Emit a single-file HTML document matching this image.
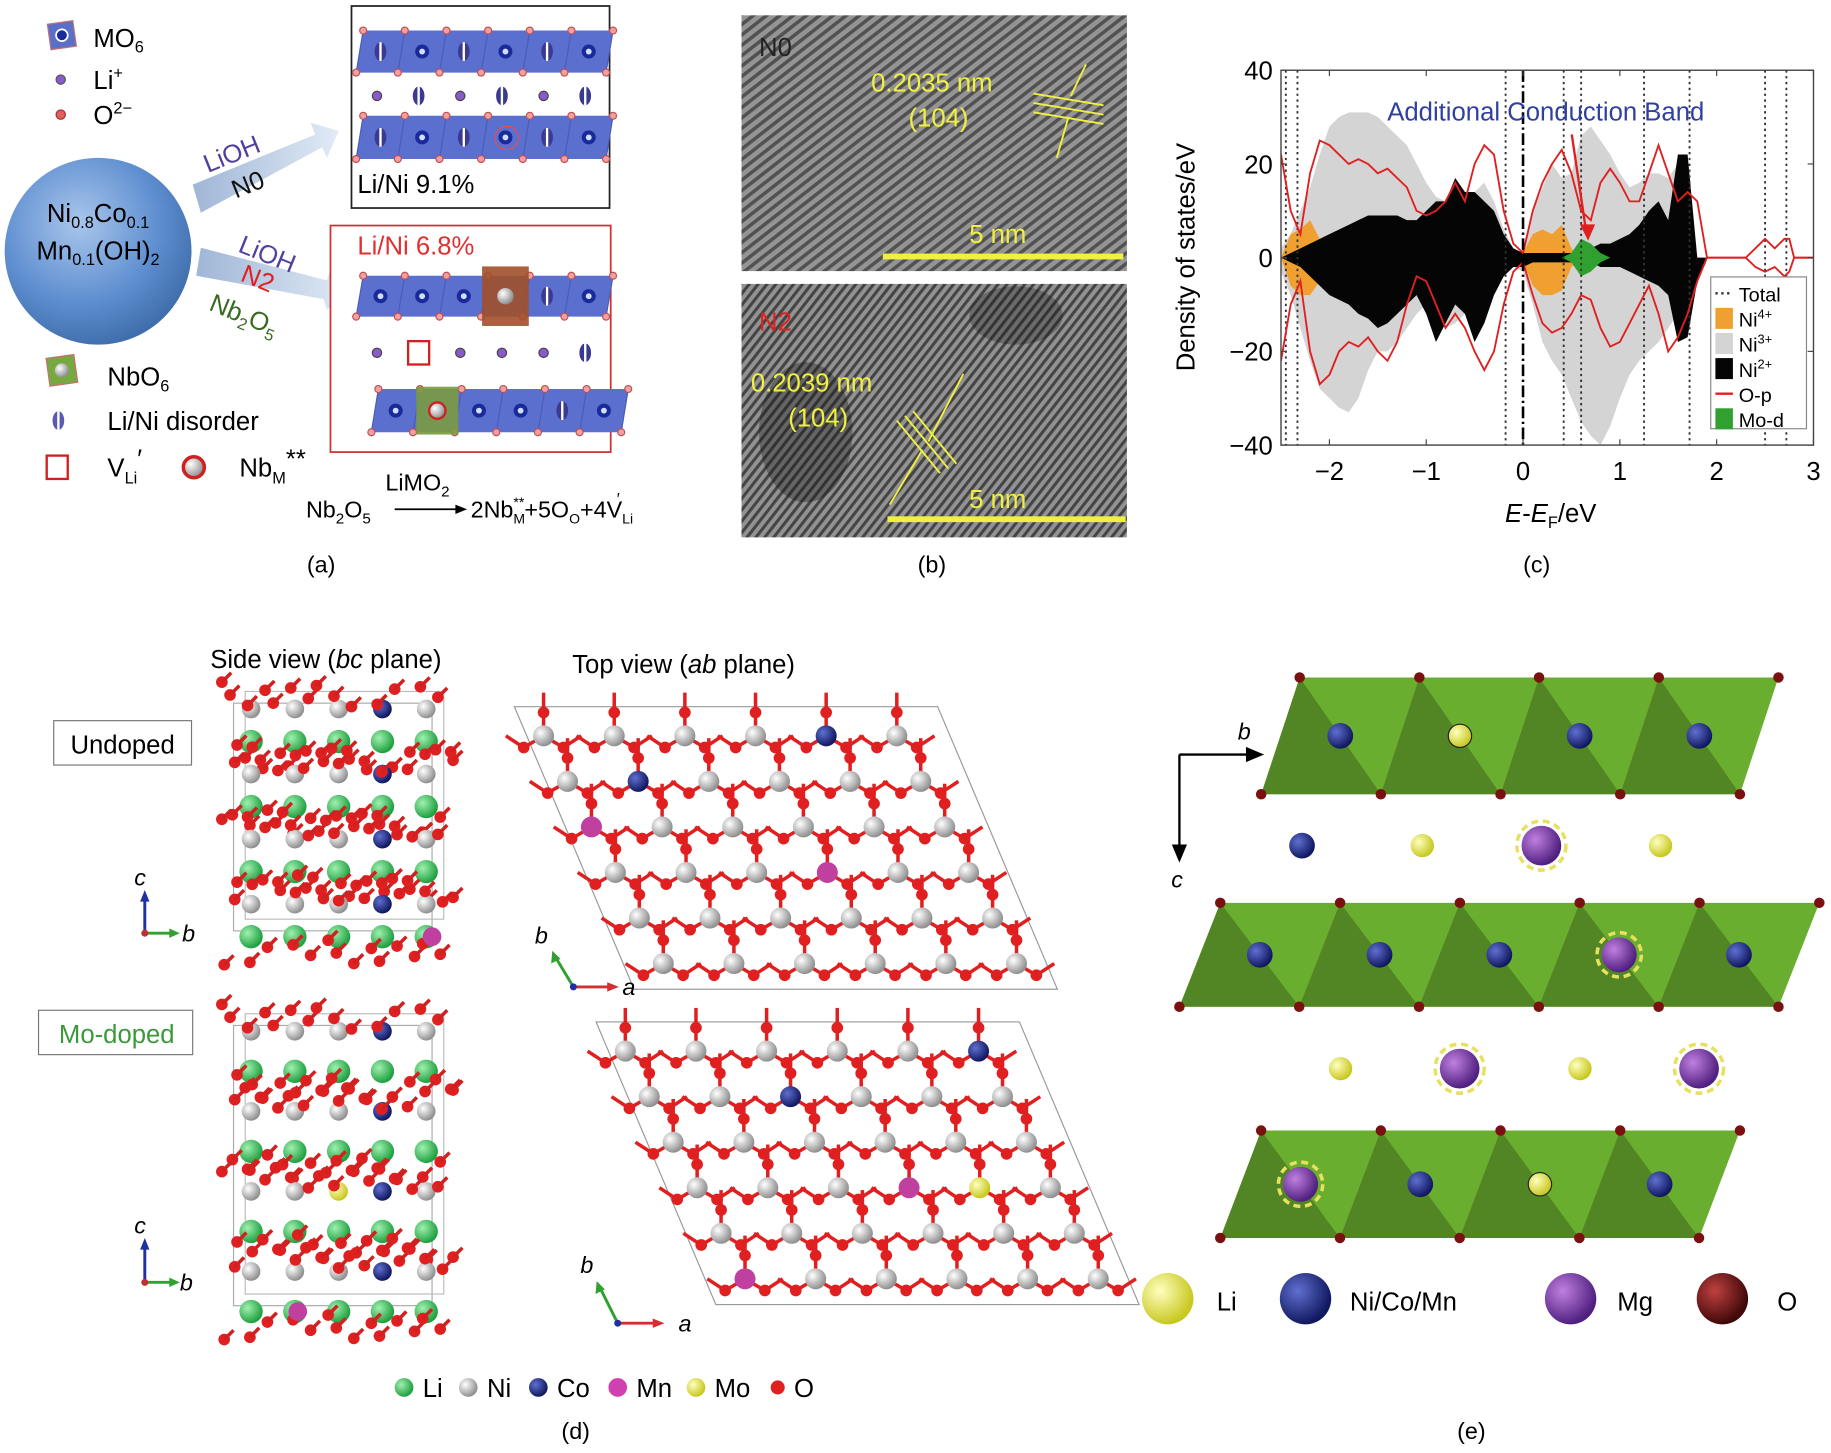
<!DOCTYPE html>
<html><head><meta charset="utf-8">
<style>
html,body{margin:0;padding:0;background:#fff;}
svg{display:block;font-family:"Liberation Sans",sans-serif;}
</style></head>
<body>
<svg id="fig" width="1831" height="1453" viewBox="0 0 1568 1244" xmlns="http://www.w3.org/2000/svg">
<defs>
  <radialGradient id="sphereBlue" cx="40%" cy="35%" r="70%"><stop offset="0" stop-color="#a9c6ec"/><stop offset="0.6" stop-color="#5f8fd0"/><stop offset="1" stop-color="#3c6aa8"/></radialGradient>
  <radialGradient id="ballYellow" cx="35%" cy="35%" r="65%"><stop offset="0" stop-color="#ffffc0"/><stop offset="1" stop-color="#c8c820"/></radialGradient>
  <radialGradient id="ballNavy" cx="35%" cy="35%" r="65%"><stop offset="0" stop-color="#6070d0"/><stop offset="1" stop-color="#101860"/></radialGradient>
  <radialGradient id="ballPurple" cx="35%" cy="35%" r="65%"><stop offset="0" stop-color="#c080e0"/><stop offset="1" stop-color="#502080"/></radialGradient>
  <radialGradient id="ballRed" cx="35%" cy="35%" r="65%"><stop offset="0" stop-color="#c04040"/><stop offset="1" stop-color="#400808"/></radialGradient>
  <radialGradient id="ballGray" cx="35%" cy="35%" r="65%"><stop offset="0" stop-color="#ffffff"/><stop offset="1" stop-color="#909090"/></radialGradient>
  <radialGradient id="ballGreen" cx="35%" cy="35%" r="65%"><stop offset="0" stop-color="#a0f0b0"/><stop offset="1" stop-color="#20a040"/></radialGradient>
  <linearGradient id="arrowG" x1="0" x2="1"><stop offset="0" stop-color="#9fb6d6"/><stop offset="1" stop-color="#e2ebf6"/></linearGradient>
  <pattern id="stripes" width="7" height="7" patternUnits="userSpaceOnUse" patternTransform="rotate(-38)">
    <rect width="7" height="7" fill="#9a9a9a"/><rect width="7" height="3" fill="#3a3a3a"/>
  </pattern>
  <pattern id="stripes2" width="6" height="6" patternUnits="userSpaceOnUse" patternTransform="rotate(-52)">
    <rect width="6" height="6" fill="#a0a0a0"/><rect width="6" height="2.6" fill="#383838"/>
  </pattern>
</defs>

<!-- ===== Panel (a) ===== -->
<g>
  <g>
    <rect x="42" y="19" width="22" height="22" fill="#5a6fc8" stroke="#c87070" transform="rotate(-8 53 30)"/>
    <circle cx="53" cy="30" r="5" fill="#1a2a9a" stroke="#fff" stroke-width="1.5"/>
    <text x="80" y="40" font-size="22">MO<tspan font-size="14" dy="5">6</tspan></text>
  </g>
  <g>
    <circle cx="52" cy="68" r="4" fill="#8a5ac8" stroke="#555"/>
    <text x="80" y="76" font-size="22">Li<tspan font-size="14" dy="-9">+</tspan></text>
  </g>
  <g>
    <circle cx="52" cy="98" r="4" fill="#e06060" stroke="#a03030"/>
    <text x="80" y="106" font-size="22">O<tspan font-size="14" dy="-9">2−</tspan></text>
  </g>
  <circle cx="84" cy="215" r="80" fill="url(#sphereBlue)"/>
  <text x="84" y="190" font-size="22" text-anchor="middle">Ni<tspan font-size="14" dy="5">0.8</tspan><tspan dy="-5">Co</tspan><tspan font-size="14" dy="5">0.1</tspan></text>
  <text x="84" y="222" font-size="22" text-anchor="middle">Mn<tspan font-size="14" dy="5">0.1</tspan><tspan dy="-5">(OH)</tspan><tspan font-size="14" dy="5">2</tspan></text>
  <polygon points="165,158 270,115 266,105 290,112 280,135 276,126 172,182" fill="url(#arrowG)"/>
  <text x="0" y="0" font-size="22" fill="#5040a0" transform="translate(178,148) rotate(-22)">LiOH</text>
  <text x="0" y="0" font-size="22" fill="#111" transform="translate(202,170) rotate(-22)">N0</text>
  <polygon points="172,212 280,240 283,230 300,250 280,265 277,256 168,236" fill="url(#arrowG)"/>
  <text x="0" y="0" font-size="22" fill="#5040a0" transform="translate(203,215) rotate(22)">LiOH</text>
  <text x="0" y="0" font-size="22" fill="#e02020" transform="translate(205,240) rotate(22)">N2</text>
  <text x="0" y="0" font-size="22" fill="#3a6a20" transform="translate(178,265) rotate(22)">Nb<tspan font-size="14" dy="5">2</tspan><tspan dy="-5">O</tspan><tspan font-size="14" dy="5">5</tspan></text>

  <rect x="301" y="5" width="221" height="173" fill="#fff" stroke="#222" stroke-width="1.5"/>
  <g id="boxN0"></g>
  <text x="306" y="165" font-size="22">Li/Ni 9.1%</text>

  <rect x="283" y="193" width="240" height="194" fill="#fff" stroke="#d03030" stroke-width="1.5"/>
  <g id="boxN2"></g>
  <text x="306" y="218" font-size="22" fill="#e03030">Li/Ni 6.8%</text>

  <g>
    <rect x="41" y="305" width="24" height="24" fill="#78a840" stroke="#c87070" transform="rotate(-8 53 317)"/>
    <circle cx="53" cy="317" r="6" fill="url(#ballGray)"/>
    <text x="92" y="330" font-size="22">NbO<tspan font-size="14" dy="5">6</tspan></text>
  </g>
  <g>
    <ellipse cx="50" cy="360" rx="5" ry="8" fill="#5a5ab0"/><rect x="49" y="352" width="2" height="16" fill="#fff"/>
    <text x="92" y="368" font-size="22">Li/Ni disorder</text>
  </g>
  <g>
    <rect x="40" y="390" width="18" height="20" fill="none" stroke="#d02020" stroke-width="2"/>
    <text x="92" y="408" font-size="22">V<tspan font-size="14" dy="6">Li</tspan><tspan dy="-14">′</tspan></text>
  </g>
  <g>
    <circle cx="166" cy="400" r="9" fill="url(#ballGray)" stroke="#d02020" stroke-width="3"/>
    <text x="205" y="408" font-size="22">Nb<tspan font-size="14" dy="6">M</tspan><tspan dy="-14">**</tspan></text>
  </g>
  <g>
    <text x="330" y="420" font-size="20">LiMO<tspan font-size="13" dy="5">2</tspan></text>
    <text x="262" y="443" font-size="20">Nb<tspan font-size="13" dy="5">2</tspan><tspan dy="-5">O</tspan><tspan font-size="13" dy="5">5</tspan></text>
    <line x1="338" y1="436" x2="395" y2="436" stroke="#000" stroke-width="1.5"/><polygon points="400,436 390,432 390,440" fill="#000"/>
    <text x="403" y="443" font-size="20">2Nb<tspan font-size="12" dy="5">M</tspan><tspan font-size="12" dx="-10" dy="-14">**</tspan><tspan dy="9">+5O</tspan><tspan font-size="12" dy="5">O</tspan><tspan dy="-5">+4V</tspan><tspan font-size="12" dy="5">Li</tspan><tspan font-size="14" dx="-14" dy="-16">′</tspan></text>
  </g>
  <text x="275" y="490" font-size="20" text-anchor="middle">(a)</text>
</g>

<!-- ===== Panel (b) ===== -->
<g>
  <rect x="635" y="13" width="330" height="219" fill="url(#stripes)"/>
  <rect x="635" y="13" width="330" height="219" fill="#888" opacity="0.3"/>
  <text x="650" y="48" font-size="22" fill="#222">N0</text>
  <text x="746" y="78" font-size="22" fill="#f0f040">0.2035 nm</text>
  <text x="778" y="108" font-size="22" fill="#f0f040">(104)</text>
  <g stroke="#f0f040" stroke-width="1.6">
    <line x1="885" y1="80" x2="945" y2="90"/><line x1="885" y1="88" x2="945" y2="98"/><line x1="885" y1="96" x2="945" y2="106"/>
    <line x1="930" y1="55" x2="917" y2="82"/><line x1="905" y1="135" x2="915" y2="100"/>
  </g>
  <text x="830" y="208" font-size="22" fill="#f0f040">5 nm</text>
  <rect x="756" y="217" width="206" height="5" fill="#f0f040"/>

  <rect x="635" y="243" width="330" height="217" fill="url(#stripes2)"/>
  <rect x="635" y="243" width="330" height="217" fill="#666" opacity="0.25"/>
  <ellipse cx="690" cy="370" rx="40" ry="60" fill="#111" opacity="0.35"/>
  <ellipse cx="870" cy="270" rx="40" ry="25" fill="#111" opacity="0.3"/>
  <text x="650" y="283" font-size="22" fill="#e02020">N2</text>
  <text x="643" y="335" font-size="22" fill="#f0f040">0.2039 nm</text>
  <text x="675" y="365" font-size="22" fill="#f0f040">(104)</text>
  <g stroke="#f0f040" stroke-width="1.6">
    <line x1="768" y1="360" x2="805" y2="405"/><line x1="775" y1="356" x2="812" y2="401"/><line x1="782" y1="352" x2="819" y2="397"/>
    <line x1="825" y1="320" x2="795" y2="378"/><line x1="762" y1="432" x2="790" y2="385"/>
  </g>
  <text x="830" y="435" font-size="22" fill="#f0f040">5 nm</text>
  <rect x="760" y="442" width="204" height="5" fill="#f0f040"/>
  <text x="798" y="490" font-size="20" text-anchor="middle">(b)</text>
</g>

<!-- ===== Panel (c) chart ===== -->
<g id="chart"></g>

<!-- ===== Panel (d) ===== -->
<g id="panelD">
  <text x="180" y="572" font-size="22">Side view (<tspan font-style="italic">bc</tspan> plane)</text>
  <text x="490" y="576" font-size="22">Top view (<tspan font-style="italic">ab</tspan> plane)</text>
  <rect x="46" y="617" width="118" height="38" fill="#fff" stroke="#777"/>
  <text x="105" y="645" font-size="22" text-anchor="middle">Undoped</text>
  <rect x="33" y="865" width="132" height="38" fill="#fff" stroke="#777"/>
  <text x="100" y="893" font-size="22" text-anchor="middle" fill="#3a9a3a">Mo-doped</text>
  <g id="sideU"></g>
  <g id="sideM"></g>
  <g id="topU"></g>
  <g id="topM"></g>
  <g stroke-width="2.5">
    <line x1="124" y1="799" x2="124" y2="768" stroke="#2030a0"/><polygon points="124,762 120,772 128,772" fill="#2030a0"/>
    <line x1="124" y1="799" x2="148" y2="799" stroke="#30a030"/><polygon points="154,799 145,795 145,803" fill="#30a030"/>
    <circle cx="124" cy="799" r="3" fill="#c03030"/>
    <text x="115" y="758" font-size="20" font-style="italic" stroke="none">c</text>
    <text x="156" y="806" font-size="20" font-style="italic" stroke="none">b</text>
  </g>
  <g stroke-width="2.5">
    <line x1="124" y1="1098" x2="124" y2="1066" stroke="#2030a0"/><polygon points="124,1060 120,1070 128,1070" fill="#2030a0"/>
    <line x1="124" y1="1098" x2="148" y2="1098" stroke="#30a030"/><polygon points="154,1098 145,1094 145,1102" fill="#30a030"/>
    <circle cx="124" cy="1098" r="3" fill="#c03030"/>
    <text x="115" y="1056" font-size="20" font-style="italic" stroke="none">c</text>
    <text x="154" y="1105" font-size="20" font-style="italic" stroke="none">b</text>
  </g>
  <g stroke-width="2.5">
    <line x1="491" y1="845" x2="476" y2="820" stroke="#30a030"/><polygon points="473,814 472,825 480,821" fill="#30a030"/>
    <line x1="491" y1="845" x2="523" y2="845" stroke="#d03030"/><polygon points="530,845 520,841 520,849" fill="#d03030"/>
    <circle cx="491" cy="845" r="3" fill="#2030a0"/>
    <text x="458" y="808" font-size="20" font-style="italic" stroke="none">b</text>
    <text x="533" y="852" font-size="20" font-style="italic" stroke="none">a</text>
  </g>
  <g stroke-width="2.5">
    <line x1="529" y1="1133" x2="514" y2="1103" stroke="#30a030"/><polygon points="511,1097 510,1108 518,1104" fill="#30a030"/>
    <line x1="529" y1="1133" x2="562" y2="1133" stroke="#d03030"/><polygon points="569,1133 559,1129 559,1137" fill="#d03030"/>
    <circle cx="529" cy="1133" r="3" fill="#2030a0"/>
    <text x="497" y="1090" font-size="20" font-style="italic" stroke="none">b</text>
    <text x="581" y="1140" font-size="20" font-style="italic" stroke="none">a</text>
  </g>
  <g font-size="22">
    <circle cx="346" cy="1188" r="8" fill="url(#ballGreen)"/><text x="362" y="1196">Li</text>
    <circle cx="401" cy="1188" r="8" fill="url(#ballGray)"/><text x="417" y="1196">Ni</text>
    <circle cx="461" cy="1188" r="8" fill="url(#ballNavy)"/><text x="477" y="1196">Co</text>
    <circle cx="529" cy="1188" r="8" fill="#d040b0"/><text x="545" y="1196">Mn</text>
    <circle cx="596" cy="1188" r="8" fill="url(#ballYellow)"/><text x="612" y="1196">Mo</text>
    <circle cx="666" cy="1188" r="6" fill="#e02020"/><text x="680" y="1196">O</text>
  </g>
  <text x="493" y="1232" font-size="20" text-anchor="middle">(d)</text>
</g>

<!-- ===== Panel (e) ===== -->
<g id="panelE">
  <g stroke="#000" stroke-width="2">
    <line x1="1010" y1="646" x2="1072" y2="646"/><polygon points="1080,646 1068,641 1068,651" fill="#000"/>
    <line x1="1010" y1="646" x2="1010" y2="728"/><polygon points="1010,736 1005,724 1015,724" fill="#000"/>
    <text x="1060" y="633" font-size="20" font-style="italic" stroke="none">b</text>
    <text x="1003" y="760" font-size="20" font-style="italic" stroke="none">c</text>
  </g>
  <g font-size="22">
    <circle cx="1000" cy="1112" r="22" fill="url(#ballYellow)"/><text x="1042" y="1122">Li</text>
    <circle cx="1118" cy="1112" r="22" fill="url(#ballNavy)"/><text x="1156" y="1122">Ni/Co/Mn</text>
    <circle cx="1345" cy="1112" r="22" fill="url(#ballPurple)"/><text x="1385" y="1122">Mg</text>
    <circle cx="1475" cy="1112" r="22" fill="url(#ballRed)"/><text x="1522" y="1122">O</text>
  </g>
  <text x="1260" y="1232" font-size="20" text-anchor="middle">(e)</text>
</g>
</svg>

<script>
const NS = "http://www.w3.org/2000/svg";
function mk(parent, tag, attrs, text) {
  const e = document.createElementNS(NS, tag);
  for (const k in attrs) e.setAttribute(k, attrs[k]);
  if (text !== undefined) e.textContent = text;
  parent.appendChild(e);
  return e;
}

/* ---------- DOS chart data (panel c) ---------- */
const energyGrid = [-2.5,-2.4,-2.3,-2.2,-2.1,-2.0,-1.9,-1.8,-1.7,-1.6,-1.5,-1.4,-1.3,-1.2,-1.1,-1.0,-0.9,-0.8,-0.7,-0.6,-0.5,-0.4,-0.3,-0.2,-0.1,0.0,0.1,0.2,0.3,0.4,0.5,0.6,0.7,0.8,0.9,1.0,1.1,1.2,1.3,1.4,1.5,1.6,1.7,1.8,1.9];
const ni3Up   = [2,5,10,15,22,28,30,31,31,31,30,28,26,24,20,16,13,12,10,10,14,16,12,6,2,1,10,15,20,17,18,26,28,25,22,18,15,16,18,18,17,20,2,0,0];
const ni3Down = [-3,-8,-15,-22,-28,-30,-32,-33,-30,-24,-20,-20,-18,-15,-12,-10,-12,-15,-14,-12,-12,-10,-6,-3,-2,-3,-10,-18,-22,-25,-30,-35,-38,-40,-36,-30,-25,-22,-20,-18,-15,-12,-2,0,0];
const ni2Up   = [0,1,2,3,4,5,6,7,8,9,9,9,9,8,8,10,12,12,17,14,14,12,10,5,2,1,1,1,1,1,1,2,2,3,3,4,5,7,10,12,8,22,22,0,0];
const ni2Down = [0,-1,-2,-4,-6,-8,-9,-10,-12,-13,-15,-14,-12,-10,-8,-12,-18,-14,-10,-12,-18,-14,-8,-4,-2,-2,-1,-1,-1,-1,-1,-1,-1,-2,-2,-2,-3,-4,-5,-6,-8,-18,-17,-5,0];
const ni4Up   = [0,5,6,8,4,0,0,0,0,0,0,0,0,0,0,0,0,0,0,0,0,0,0,0,0,1,5,6,5,7,2,0,0,0,0,0,0,0,0,0,0,0,0,0,0];
const ni4Down = [0,-6,-8,-8,-5,0,0,0,0,0,0,0,0,0,0,0,0,0,0,0,0,0,0,0,0,-1,-6,-8,-8,-7,-2,0,0,0,0,0,0,0,0,0,0,0,0,0,0];
const moUp    = [0,0,0,0,0,0,0,0,0,0,0,0,0,0,0,0,0,0,0,0,0,0,0,0,0,0,0,0,0,0,1,4,3,1,0,0,0,0,0,0,0,0,0,0,0];
const moDown  = [0,0,0,0,0,0,0,0,0,0,0,0,0,0,0,0,0,0,0,0,0,0,0,0,0,0,0,0,0,0,-1,-4,-3,-1,0,0,0,0,0,0,0,0,0,0,0];
const opUp    = [22,10,5,18,25,24,22,20,21,20,18,19,17,15,10,9,10,12,16,12,20,24,22,10,3,1,10,16,20,23,18,10,8,16,19,16,12,12,18,24,18,12,14,12,0];
const opDown  = [-22,-10,-5,-20,-27,-25,-20,-18,-19,-17,-20,-22,-18,-10,-4,-5,-10,-15,-12,-15,-20,-24,-20,-10,-3,-1,-8,-14,-16,-15,-12,-8,-9,-15,-19,-18,-14,-10,-6,-12,-20,-17,-12,-5,0];
const tailEnergy = [1.9,2.3,2.4,2.5,2.6,2.7,2.75,2.8,2.9,3.0];
const opTailUp   = [0,0,2,4,2,4,4,0,0,0];
const opTailDown = [0,0,-2,-3,-2,-4,-3,0,0,0];
const totalSpikeEnergy = [-2.45,-2.33,-0.18,0.42,0.6,1.25,1.72,2.5,2.72];
const xTicks = [-2,-1,0,1,2,3];
const yTicks = [40,20,0,-20,-40];
const legendLabels = ["Total","Ni4+","Ni3+","Ni2+","O-p","Mo-d"];

const PL = 1097, PR = 1553, PT = 60, PB = 381;
const X0 = -2.5, X1 = 3, Y0 = -40, Y1 = 40;
const xs = v => PL + (v - X0) / (X1 - X0) * (PR - PL);
const ys = v => PB - (v - Y0) / (Y1 - Y0) * (PB - PT);

(function drawChart(){
  const g = document.getElementById('chart');
  const clip = mk(g, 'clipPath', {id:'plotClip'});
  mk(clip, 'rect', {x:PL, y:PT, width:PR-PL, height:PB-PT});
  const plot = mk(g, 'g', {'clip-path':'url(#plotClip)'});
  
  

  function band(up, down, fill, name) {
    let d = '';
    energyGrid.forEach((e,i) => { d += (i?'L':'M') + xs(e).toFixed(1) + ',' + ys(up[i]).toFixed(1); });
    for (let i = energyGrid.length-1; i >= 0; i--) d += 'L' + xs(energyGrid[i]).toFixed(1) + ',' + ys(down[i]).toFixed(1);
    const p = mk(plot, 'path', {d: d + 'Z', fill: fill});
    
    
  }
  band(ni3Up, ni3Down, '#d4d4d4', 'ni3-band');
  band(ni4Up, ni4Down, '#f0a030', 'ni4-band');
  band(ni2Up, ni2Down, '#050505', 'ni2-band');
  band(moUp, moDown, '#30a030', 'mo-d-band');

  totalSpikeEnergy.forEach((e,i) => {
    const x = xs(e);
    const ln = mk(plot, 'line', {x1:x, y1:PT, x2:x, y2:PB, stroke:'#333', 'stroke-width':1.6, 'stroke-dasharray':'2,3'});
    
    
  });

  function line(xArr, vals, name) {
    const pts = xArr.map((e,i) => xs(e).toFixed(1)+','+ys(vals[i]).toFixed(1)).join(' ');
    const p = mk(plot, 'polyline', {points: pts, fill:'none', stroke:'#e02020', 'stroke-width':1.6});
    
    
  }
  line(energyGrid, opUp, 'o-p-up-line');
  line(energyGrid, opDown, 'o-p-down-line');
  line(tailEnergy, opTailUp, 'o-p-tail-up');
  line(tailEnergy, opTailDown, 'o-p-tail-down');

  const fermi = mk(plot, 'line', {x1:xs(0), y1:PT, x2:xs(0), y2:PB, stroke:'#000', 'stroke-width':2.2, 'stroke-dasharray':'10,3,2,3'});
  
  

  const frame = mk(g, 'rect', {x:PL, y:PT, width:PR-PL, height:PB-PT, fill:'none', stroke:'#444', 'stroke-width':1.2});
  
  

  xTicks.forEach(t => {
    const x = xs(t);
    mk(g, 'line', {x1:x, y1:PB, x2:x, y2:PB-5, stroke:'#444'});
    mk(g, 'line', {x1:x, y1:PT, x2:x, y2:PT+5, stroke:'#444'});
    const lb = mk(g, 'text', {x:x, y:PB+30, 'font-size':22, 'text-anchor':'middle'}, t < 0 ? '−' + (-t) : String(t));
    
    
  });
  yTicks.forEach(t => {
    const y = ys(t);
    mk(g, 'line', {x1:PL, y1:y, x2:PL+5, y2:y, stroke:'#444'});
    mk(g, 'line', {x1:PR, y1:y, x2:PR-5, y2:y, stroke:'#444'});
    const lb = mk(g, 'text', {x:PL-7, y:y+8, 'font-size':22, 'text-anchor':'end'}, t < 0 ? '−' + (-t) : String(t));
    
    
  });
  const yt = mk(g, 'text', {x:0, y:0, 'font-size':22, 'text-anchor':'middle', transform:'translate(1023,220) rotate(-90)'}, 'Density of states/eV');
  
  
  const xt = mk(g, 'text', {x:1328, y:447, 'font-size':22, 'text-anchor':'middle'});
  xt.innerHTML = '<tspan font-style="italic">E</tspan>-<tspan font-style="italic">E</tspan><tspan font-size="14" dy="5">F</tspan><tspan dy="-5">/eV</tspan>';
  
  
  const ann = mk(g, 'text', {x:1188, y:103, 'font-size':22, fill:'#3040a0'}, 'Additional Conduction Band');
  
  
  const arr = mk(g, 'line', {x1:1346, y1:115, x2:1358, y2:196, stroke:'#e02020', 'stroke-width':2});
  
  
  mk(g, 'polygon', {points:'1360,206 1353,192 1366,192', fill:'#e02020'});

  const lg = mk(g, 'g', {});
  
  
  mk(lg, 'rect', {x:1465, y:237, width:82, height:130, fill:'#fff', stroke:'#888'});
  const swatch = ['dots','#f0a030','#d4d4d4','#050505','line','#30a030'];
  legendLabels.forEach((lab,i) => {
    const y = 251 + i*21.5;
    if (swatch[i] === 'dots') mk(lg, 'line', {x1:1469, y1:y, x2:1484, y2:y, stroke:'#333', 'stroke-width':2, 'stroke-dasharray':'2,3'});
    else if (swatch[i] === 'line') mk(lg, 'line', {x1:1469, y1:y, x2:1484, y2:y, stroke:'#e02020', 'stroke-width':2});
    else mk(lg, 'rect', {x:1469, y:y-9, width:15, height:18, fill:swatch[i]});
    const t = mk(lg, 'text', {x:1489, y:y+7, 'font-size':17});
    if (lab.startsWith('Ni')) t.innerHTML = 'Ni<tspan font-size="11" dy="-7">' + lab.slice(2) + '</tspan>';
    else t.textContent = lab;
    
    
  });
  const lc = mk(g, 'text', {x:1316, y:490, 'font-size':20, 'text-anchor':'middle'}, '(c)');
  
  
})();

/* ---------- panel (a) slabs ---------- */
function slab(g, x, y, w, h, centers) {
  mk(g, 'polygon', {points:`${x+6},${y} ${x+w+6},${y} ${x+w},${y+h} ${x},${y+h}`, fill:'#5b6fcf'});
  for (let i = 0; i <= 6; i++) {
    const xx = x + i*w/6;
    mk(g, 'line', {x1:xx+6, y1:y, x2:xx, y2:y+h, stroke:'#4a5cb8', 'stroke-width':1});
    mk(g, 'circle', {cx:xx+6, cy:y, r:3, fill:'#f0a0a0', stroke:'#c05050'});
    mk(g, 'circle', {cx:xx, cy:y+h, r:3, fill:'#f0a0a0', stroke:'#c05050'});
  }
  centers.forEach((c,i) => {
    const cx = x + (i+0.5)*w/6 + 3, cy = y + h/2;
    if (c === 'm') { mk(g, 'circle', {cx, cy, r:6, fill:'#1a2a9a'}); mk(g, 'circle', {cx, cy, r:2.5, fill:'#cfe0ff'}); }
    else if (c === 'd') { mk(g, 'ellipse', {cx, cy, rx:5, ry:8, fill:'#3a3a90'}); mk(g, 'rect', {x:cx-1, y:cy-8, width:2, height:16, fill:'#fff'}); }
    else if (c === 'nb') { mk(g, 'rect', {x:cx-18, y:y-2, width:36, height:h+4, fill:'#7a9a40', opacity:0.9}); mk(g, 'circle', {cx, cy, r:7, fill:'url(#ballGray)', stroke:'#d02020', 'stroke-width':2}); }
    else if (c === 'nbr') { mk(g, 'rect', {x:cx-20, y:y-8, width:40, height:h+16, fill:'#a0502a', opacity:0.9}); mk(g, 'circle', {cx, cy, r:7, fill:'url(#ballGray)'}); }
  });
}
function midRow(g, x, y, w, items) {
  items.forEach((c,i) => {
    const cx = x + (i+0.5)*w/6;
    if (c === 'l') mk(g, 'circle', {cx, cy:y, r:4, fill:'#8a5ac8', stroke:'#444'});
    else if (c === 'd') { mk(g, 'ellipse', {cx, cy:y, rx:5, ry:8, fill:'#3a3a90'}); mk(g, 'rect', {x:cx-1, y:y-8, width:2, height:16, fill:'#fff'}); }
    else if (c === 'v') mk(g, 'rect', {x:cx-9, y:y-10, width:18, height:20, fill:'none', stroke:'#d02020', 'stroke-width':2});
  });
}
(function(){
  const a = document.getElementById('boxN0');
  slab(a, 305, 26, 214, 36, ['d','m','d','m','d','m']);
  midRow(a, 305, 82, 214, ['l','d','l','d','l','d']);
  slab(a, 305, 99, 214, 37, ['d','m','d','m','d','m']);
  mk(a, 'circle', {cx:434, cy:118, r:10, fill:'none', stroke:'#e05050'});
  const b = document.getElementById('boxN2');
  slab(b, 305, 236, 214, 35, ['m','m','m','nbr','d','m']);
  midRow(b, 305, 302, 214, ['l','v','l','l','l','d']);
  slab(b, 318, 333, 214, 37, ['m','nb','m','m','d','m']);
})();

/* ---------- panel (d) side views ---------- */
function sideView(g, x0, y0, w, h, doped) {
  mk(g, 'rect', {x:x0+15, y:y0+10, width:w-40, height:h-30, fill:'none', stroke:'#aaa'});
  mk(g, 'rect', {x:x0+25, y:y0, width:w-40, height:h-30, fill:'none', stroke:'#bbb'});
  const rows = 8;
  for (let r = 0; r < rows; r++) {
    const y = y0 + 15 + r*(h-30)/(rows-1);
    const kind = r % 2 === 0 ? 'tm' : 'li';
    for (let c = 0; c < 5; c++) {
      const x = x0 + 30 + c*(w-60)/4;
      if (kind === 'li') mk(g, 'circle', {cx:x, cy:y, r:10, fill:'url(#ballGreen)'});
      else mk(g, 'circle', {cx:x, cy:y, r:8, fill: (c===3 ? 'url(#ballNavy)' : (doped && r===4 && c===2 ? 'url(#ballYellow)' : 'url(#ballGray)'))});
    }
    for (let k = 0; k < 14; k++) {
      const ox = x0 + 5 + ((k*37 + r*13) % (w-10));
      const oy = y + ((k*7) % 22) - 11 + (kind==='li' ? 14 : -12);
      mk(g, 'circle', {cx:ox, cy:oy, r:5, fill:'#e02020'});
      mk(g, 'line', {x1:ox, y1:oy, x2:ox+8, y2:oy-8, stroke:'#d02020', 'stroke-width':3});
    }
  }
  if (!doped) mk(g, 'circle', {cx:x0+w-25, cy:y0+h-15, r:8, fill:'#c040a0'});
  else mk(g, 'circle', {cx:x0+70, cy:y0+h-15, r:8, fill:'#c040a0'});
}
sideView(document.getElementById('sideU'), 185, 592, 210, 225, false);
sideView(document.getElementById('sideM'), 185, 868, 210, 270, true);

/* ---------- panel (d) top views ---------- */
function topView(g, ox, oy, specials) {
  const ax = 60.5, bx = -20.5, by = -39;
  const rows = 6, cols = 6;
  const tx = (rows-1)*bx, ty = (rows-1)*by;
  const P = [[ox-25,oy+22],[ox+(cols-1)*ax+35,oy+22],[ox+(cols-1)*ax+35+tx,oy+ty-25],[ox-25+tx,oy+ty-25]];
  mk(g, 'polygon', {points:P.map(p=>p.join(',')).join(' '), fill:'none', stroke:'#999'});
  for (let r = 0; r < rows; r++) for (let c = 0; c < cols; c++) {
    const x = ox + c*ax + r*bx, y = oy + r*by;
    [[0,-20],[17,10],[-17,10]].forEach(d => {
      mk(g, 'line', {x1:x, y1:y, x2:x+d[0], y2:y+d[1], stroke:'#e02020', 'stroke-width':3});
      mk(g, 'line', {x1:x+d[0], y1:y+d[1], x2:x+d[0]+ (d[0]===0?0:d[0]*0.9), y2:y+d[1]+(d[0]===0?-17:-10), stroke:'#e02020', 'stroke-width':3});
      mk(g, 'circle', {cx:x+d[0], cy:y+d[1], r:5, fill:'#e02020'});
    });
    const key = r + ',' + c;
    const fill = specials[key] || 'url(#ballGray)';
    mk(g, 'circle', {cx:x, cy:y, r:9, fill});
  }
}
topView(document.getElementById('topU'), 568, 825, {'3,0':'#c040a0','2,3':'#c040a0','4,1':'url(#ballNavy)','5,4':'url(#ballNavy)'});
topView(document.getElementById('topM'), 638, 1095, {'0,0':'#c040a0','2,3':'#c040a0','2,4':'url(#ballYellow)','4,2':'url(#ballNavy)','5,5':'url(#ballNavy)'});

/* ---------- panel (e) ---------- */
(function(){
  const g = document.getElementById('panelE');
  function layer(topX, topY, botX, botY, n, step, atoms) {
    const L = mk(g, 'g', {});
    
    
    mk(L, 'polygon', {points:`${topX},${topY} ${topX+n*step},${topY} ${botX+n*step},${botY} ${botX},${botY}`, fill:'#6aae30'});
    for (let i = 0; i < n; i++) {
      mk(L, 'polygon', {points:`${topX+i*step},${topY} ${botX+i*step},${botY} ${botX+(i+1)*step},${botY}`, fill:'#4c7a20', opacity:0.8});
    }
    for (let i = 0; i <= n; i++) {
      mk(L, 'circle', {cx:topX+i*step, cy:topY, r:4.5, fill:'#7a1010'});
      mk(L, 'circle', {cx:botX+i*step, cy:botY, r:4.5, fill:'#7a1010'});
    }
    atoms.forEach((a,i) => {
      const cx = (topX+botX)/2 + (i+0.5)*step, cy = (topY+botY)/2;
      if (a === 'n') mk(L, 'circle', {cx, cy, r:11, fill:'url(#ballNavy)'});
      else if (a === 'y') mk(L, 'circle', {cx, cy, r:10, fill:'url(#ballYellow)', stroke:'#222'});
      else if (a === 'p') { mk(L, 'circle', {cx, cy, r:19, fill:'none', stroke:'#e8e060', 'stroke-width':3, 'stroke-dasharray':'6,4'}); mk(L, 'circle', {cx, cy, r:15, fill:'url(#ballPurple)'}); }
    });
  }
  layer(1113, 580, 1080, 680, 4, 102.5, ['n','y','n','n']);
  layer(1045, 773, 1010, 862, 5, 102.6, ['n','n','n','p','n']);
  layer(1080, 968, 1045, 1060, 4, 102.5, ['p','n','y','n']);
  function mid(y, list) {
    list.forEach(a => {
      if (a[1] === 'n') mk(g, 'circle', {cx:a[0], cy:y, r:11, fill:'url(#ballNavy)'});
      else if (a[1] === 'y') mk(g, 'circle', {cx:a[0], cy:y, r:10, fill:'url(#ballYellow)'});
      else { mk(g, 'circle', {cx:a[0], cy:y, r:21, fill:'none', stroke:'#e8e060', 'stroke-width':3, 'stroke-dasharray':'6,4'}); mk(g, 'circle', {cx:a[0], cy:y, r:17, fill:'url(#ballPurple)'}); }
    });
  }
  mid(724, [[1115,'n'],[1218,'y'],[1320,'p'],[1422,'y']]);
  mid(915, [[1148,'y'],[1250,'p'],[1353,'y'],[1455,'p']]);
})();
</script>
</body></html>
